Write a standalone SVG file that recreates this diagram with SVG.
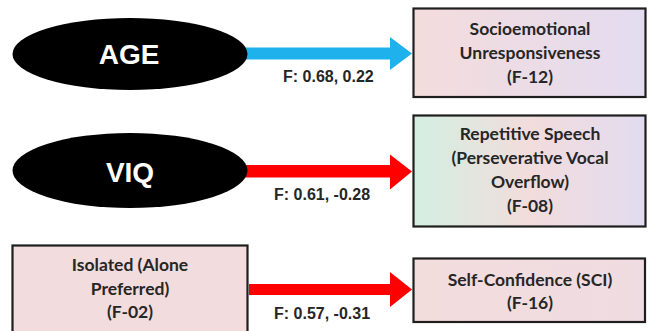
<svg xmlns="http://www.w3.org/2000/svg" width="654" height="331" viewBox="0 0 654 331">
  <defs>
    <linearGradient id="g1" x1="0" y1="0" x2="1" y2="0">
      <stop offset="0" stop-color="#f4dcdc"/>
      <stop offset="1" stop-color="#e3dcf0"/>
    </linearGradient>
    <linearGradient id="g2" x1="0" y1="0" x2="1" y2="0">
      <stop offset="0" stop-color="#d3efe1"/>
      <stop offset="0.5" stop-color="#f2dcdc"/>
      <stop offset="1" stop-color="#e2dcf0"/>
    </linearGradient>
    <linearGradient id="g3" x1="0" y1="0" x2="1" y2="0">
      <stop offset="0" stop-color="#f3dcdc"/>
      <stop offset="1" stop-color="#efdce2"/>
    </linearGradient>
  </defs>
  <style>
    .box { stroke: #1e1e1e; stroke-width: 2.2; }
    .oval { fill: #000; }
    .ovaltxt { font-family: "Liberation Sans", Arial, sans-serif; font-weight: bold; font-size: 28px; fill: #fff; text-anchor: middle; }
    .txt { font-family: Lato, "Liberation Sans", Arial, sans-serif; font-weight: bold; font-size: 17.5px; fill: #262626; text-anchor: middle; }
    .lbl { font-family: "Liberation Sans", Arial, sans-serif; font-weight: bold; font-size: 16px; fill: #262626; }
  </style>
  <rect width="654" height="331" fill="#fff"/>

  <g id="connectors">
    <polygon fill="#1fb1ec" points="240,47.5 390,47.5 390,37 412,53.5 390,70 390,59.5 240,59.5"/>
    <text class="lbl" x="283" y="81.5">F: 0.68, 0.22</text>
    <polygon fill="#ff0000" points="240,165 390,165 390,154.5 412,171.5 390,189.5 390,177.5 240,177.5"/>
    <text class="lbl" x="274" y="199.5">F: 0.61, -0.28</text>
    <polygon fill="#ff0000" points="249,284 390,284 390,272 412,289.5 390,307 390,295 249,295"/>
    <text class="lbl" x="274" y="318.5">F: 0.57, -0.31</text>
  </g>

  <g id="node-age">
    <ellipse class="oval" cx="130" cy="54" rx="117.5" ry="36"/>
    <text class="ovaltxt" x="129" y="63.5">AGE</text>
  </g>

  <g id="node-viq">
    <ellipse class="oval" cx="130" cy="170.5" rx="117.5" ry="37.5"/>
    <text class="ovaltxt" x="130" y="182">VIQ</text>
  </g>

  <g id="node-isolated">
    <rect class="box" x="12.5" y="245.5" width="235" height="90" fill="#f3dcdd"/>
    <text class="txt" x="130" y="271">Isolated (Alone</text>
    <text class="txt" x="130" y="294.5">Preferred)</text>
    <text class="txt" x="130" y="318">(F-02)</text>
  </g>

  <g id="node-f12">
    <rect class="box" x="413.5" y="8.5" width="232" height="88.5" fill="url(#g1)"/>
    <text class="txt" x="530" y="34.5">Socioemotional</text>
    <text class="txt" x="530" y="59">Unresponsiveness</text>
    <text class="txt" x="530" y="83">(F-12)</text>
  </g>

  <g id="node-f08">
    <rect class="box" x="413.5" y="115.5" width="232" height="111" fill="url(#g2)"/>
    <text class="txt" x="530" y="139.5">Repetitive Speech</text>
    <text class="txt" x="530" y="164">(Perseverative Vocal</text>
    <text class="txt" x="530" y="188">Overflow)</text>
    <text class="txt" x="530" y="211.5">(F-08)</text>
  </g>

  <g id="node-f16">
    <rect class="box" x="413.5" y="258.5" width="231.5" height="63.5" fill="url(#g3)"/>
    <text class="txt" x="530" y="286">Self-Confidence (SCI)</text>
    <text class="txt" x="530" y="308.5">(F-16)</text>
  </g>
</svg>
